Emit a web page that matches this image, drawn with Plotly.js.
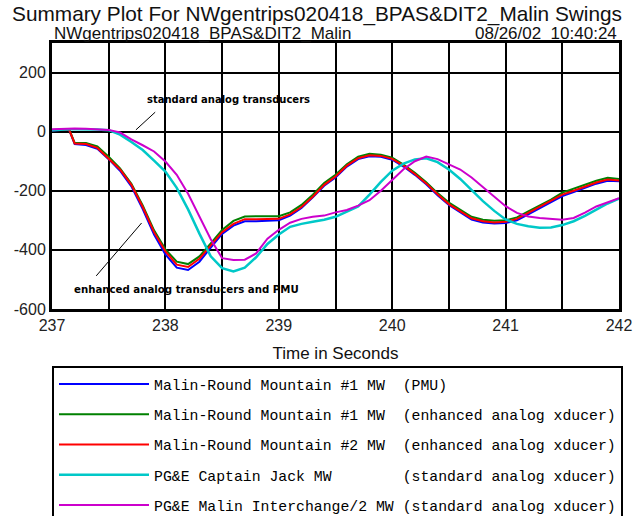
<!DOCTYPE html>
<html>
<head>
<meta charset="utf-8">
<script src="https://cdn.plot.ly/plotly-3.0.1.min.js"></script>
<style>html,body{margin:0;padding:0;background:#fff;}#chart{width:634px;height:516px;}</style>
</head>
<body>
<div id="chart"></div>
<script>
// Time in seconds
var timeSec = [237.0, 237.1, 237.15, 237.2, 237.3, 237.4, 237.5, 237.6, 237.7, 237.8, 237.9,
  238.0, 238.1, 238.2, 238.3, 238.4, 238.5, 238.6, 238.7, 238.8, 238.9,
  239.0, 239.1, 239.2, 239.3, 239.4, 239.5, 239.6, 239.7, 239.8, 239.9,
  240.0, 240.1, 240.2, 240.3, 240.4, 240.5, 240.6, 240.7, 240.8, 240.9,
  241.0, 241.1, 241.2, 241.3, 241.4, 241.5, 241.6, 241.7, 241.8, 241.9, 242.0];

// Malin-Round Mountain #1 MW (PMU)
var mrm1Pmu = [4, 7, 7, -42, -45, -58, -93, -132, -185, -262, -348,
  -415, -460, -468, -440, -392, -346, -318, -303, -303, -302,
  -300, -284, -258, -222, -183, -155, -118, -93, -83, -85,
  -95, -118, -146, -178, -215, -248, -274, -297, -307, -311,
  -309, -300, -280, -260, -240, -218, -204, -190, -176, -166, -168];

// Malin-Round Mountain #1 MW (enhanced analog xducer)
var mrm1Enh = [6, 9, 9, -38, -38, -50, -85, -124, -176, -250, -334,
  -398, -440, -448, -422, -378, -333, -302, -287, -286, -286,
  -286, -273, -248, -213, -174, -146, -110, -85, -75, -78,
  -88, -111, -139, -171, -208, -240, -265, -288, -298, -301,
  -300, -290, -270, -250, -230, -206, -192, -180, -166, -156, -160];

// Malin-Round Mountain #2 MW (enhanced analog xducer)
var mrm2Enh = [5, 8, 8, -40, -42, -55, -90, -128, -180, -255, -340,
  -405, -450, -458, -430, -385, -340, -312, -296, -296, -296,
  -295, -280, -255, -220, -180, -152, -115, -90, -80, -82,
  -92, -115, -143, -175, -212, -245, -270, -293, -303, -307,
  -305, -295, -275, -255, -235, -213, -200, -187, -172, -162, -165];

// PG&E Captain Jack MW (standard analog xducer)
var captainJack = [5, 8, 8, 8, 8, 7, 5, -10, -35, -62, -98,
  -135, -190, -263, -345, -422, -462, -473, -460, -425, -380,
  -348, -322, -312, -305, -298, -288, -270, -253, -213, -170,
  -132, -108, -94, -90, -103, -128, -160, -198, -235, -268,
  -297, -312, -320, -325, -324, -316, -303, -285, -263, -243, -227];

// PG&E Malin Interchange/2 MW (standard analog xducer)
var malinInterchange = [8, 10, 10, 11, 10, 9, 6, -3, -26, -46, -67,
  -101, -146, -210, -285, -364, -428, -434, -433, -412, -362,
  -332, -308, -295, -288, -284, -273, -265, -250, -232, -200,
  -162, -127, -100, -84, -93, -110, -128, -155, -188, -220,
  -252, -275, -287, -292, -295, -298, -292, -274, -253, -238, -225];

var seriesNames = [
  "Malin-Round Mountain #1 MW  (PMU)",
  "Malin-Round Mountain #1 MW  (enhanced analog xducer)",
  "Malin-Round Mountain #2 MW  (enhanced analog xducer)",
  "PG&E Captain Jack MW        (standard analog xducer)",
  "PG&E Malin Interchange/2 MW (standard analog xducer)"
];
var seriesValues = [mrm1Pmu, mrm1Enh, mrm2Enh, captainJack, malinInterchange];
var seriesColors = ["#0000ff", "#008000", "#ff0000", "#00c8c8", "#cc00cc"];
var seriesWidths = [2, 2, 2, 2.5, 2];

var xTicks = [237, 238, 239, 240, 241, 242];
var yTicks = [-600, -400, -200, 0, 200];

function legendText(s) {
  return s.replace(/&/g, "&amp;").replace(/ /g, "&nbsp;");
}

var traces = seriesValues.map(function (vals, i) {
  return {
    x: timeSec, y: vals, type: "scatter", mode: "lines",
    name: legendText(seriesNames[i]),
    legendgroup: "g" + i,
    line: {color: seriesColors[i], width: seriesWidths[i]}
  };
});

var layout = {
  width: 634, height: 516,
  paper_bgcolor: "#ffffff", plot_bgcolor: "#ffffff",
  margin: {l: 52, r: 15, t: 43, b: 207, autoexpand: false},
  font: {family: "Liberation Sans, Arial, sans-serif", color: "#000"},
  title: {
    text: "Summary Plot For NWgentrips020418_BPAS&amp;DIT2_Malin Swings",
    font: {family: "Liberation Sans, Arial, sans-serif", size: 20.8, color: "#111"},
    x: 0.5, xref: "container", xanchor: "center",
    y: 1 - 14 / 516, yref: "container", yanchor: "middle"
  },
  xaxis: {
    range: [237, 242], tickvals: xTicks, ticktext: xTicks.map(String),
    showgrid: true, gridcolor: "#000", gridwidth: 2,
    minor: {dtick: 0.5, tick0: 237, showgrid: true, gridcolor: "#000", gridwidth: 2},
    showline: true, mirror: true, linecolor: "#000", linewidth: 3,
    zeroline: false, ticks: "",
    tickfont: {family: "Liberation Sans, Arial, sans-serif", size: 16, color: "#222"},
    title: {text: "Time in Seconds", standoff: 14,
      font: {family: "Liberation Sans, Arial, sans-serif", size: 17, color: "#111"}}
  },
  yaxis: {
    range: [-600, 300], tickvals: yTicks, ticktext: yTicks.map(String),
    showgrid: true, gridcolor: "#000", gridwidth: 2,
    showline: true, mirror: true, linecolor: "#000", linewidth: 3,
    zeroline: false, ticks: "",
    tickfont: {family: "Liberation Sans, Arial, sans-serif", size: 16, color: "#222"}
  },
  showlegend: true,
  legend: {
    x: 0, xanchor: "left", y: -0.2143, yanchor: "top",
    bordercolor: "#000", borderwidth: 2, bgcolor: "#fff",
    font: {family: "Liberation Mono, DejaVu Sans Mono, monospace", size: 14.8, color: "#000"},
    itemwidth: 90, tracegroupgap: 8, traceorder: "grouped"
  },
  annotations: [
    {text: "NWgentrips020418_BPAS&amp;DIT2_Malin", xref: "paper", yref: "paper",
     x: 0, y: 1, xanchor: "left", yanchor: "bottom", yshift: -2, showarrow: false,
     font: {family: "Liberation Sans, Arial, sans-serif", size: 17, color: "#111"}},
    {text: "08/26/02&nbsp;&nbsp;10:40:24", xref: "paper", yref: "paper",
     x: 1, y: 1, xanchor: "right", yanchor: "bottom", yshift: -2, showarrow: false,
     font: {family: "Liberation Sans, Arial, sans-serif", size: 17, color: "#111"}},
    {text: "standard analog transducers", xref: "x", yref: "y",
     x: 238.56, y: 110, showarrow: false,
     font: {family: "DejaVu Sans, sans-serif", size: 10, color: "#000", weight: "bold"}},
    {text: "enhanced analog transducers and PMU", xref: "x", yref: "y",
     x: 238.19, y: -535, showarrow: false,
     font: {family: "DejaVu Sans, sans-serif", size: 10.2, color: "#000", weight: "bold"}}
  ],
  shapes: [
    {type: "line", xref: "x", yref: "y", x0: 237.74, y0: 6, x1: 237.91, y1: 66,
     line: {color: "#000", width: 1}},
    {type: "line", xref: "x", yref: "y", x0: 237.39, y0: -488, x1: 237.79, y1: -309,
     line: {color: "#000", width: 1}}
  ]
};

Plotly.newPlot("chart", traces, layout, {displayModeBar: false, staticPlot: true});
</script>
</body>
</html>
